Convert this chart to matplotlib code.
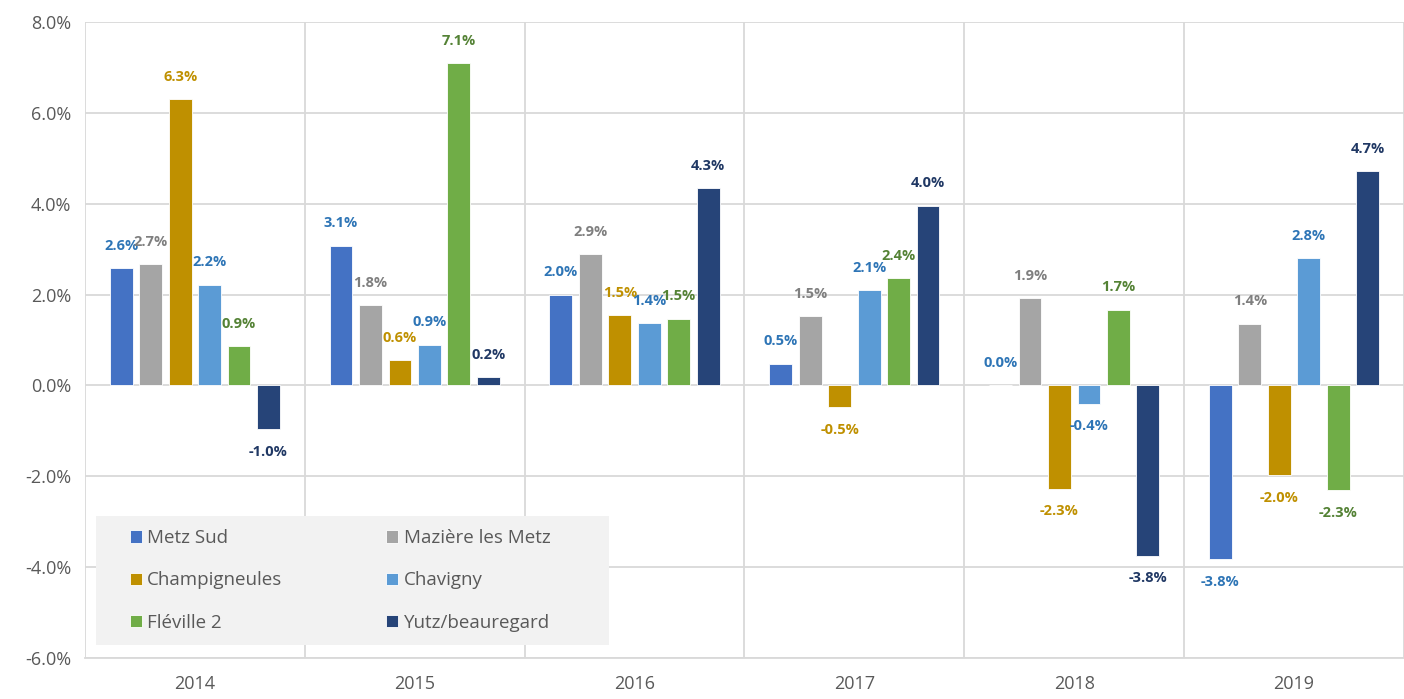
import numpy as np
import matplotlib.pyplot as plt
from matplotlib.patches import Rectangle
from matplotlib.ticker import FuncFormatter, MultipleLocator

plt.rcParams['font.family'] = ['Open Sans', 'DejaVu Sans']

years = ['2014', '2015', '2016', '2017', '2018', '2019']
series = ['Metz Sud', 'Mazière les Metz', 'Champigneules', 'Chavigny', 'Fléville 2', 'Yutz/beauregard']

metz_sud = [2.58, 3.08, 2.00, 0.48, 0.00, -3.83]
maziere = [2.67, 1.76, 2.89, 1.52, 1.92, 1.36]
champigneules = [6.30, 0.55, 1.54, -0.48, -2.27, -1.98]
chavigny = [2.22, 0.90, 1.37, 2.09, -0.40, 2.80]
fleville = [0.86, 7.09, 1.47, 2.36, 1.67, -2.31]
yutz = [-0.97, 0.18, 4.34, 3.96, -3.76, 4.71]

values = [metz_sud, maziere, champigneules, chavigny, fleville, yutz]
bar_colors = ['#4472C4', '#A5A5A5', '#BF9000', '#5B9BD5', '#70AD47', '#264478']
label_colors = ['#2E75B6', '#7F7F7F', '#BF9000', '#2E75B6', '#548235', '#203864']

fig = plt.figure(figsize=(14.04, 6.99), dpi=100)
ax = fig.add_axes([0.0605, 0.0587, 0.9395, 0.9098])

x = np.arange(len(years))
step = 0.134
width = 0.104
handles = []
for i, (vals, name) in enumerate(zip(values, series)):
    pos = x + (i - 2.5) * step
    b = ax.bar(pos, vals, width, color=bar_colors[i], edgecolor='white', linewidth=0.6,
               label=name, zorder=3)
    handles.append(b)
    for px, v in zip(pos, vals):
        txt = f'{v:.1f}%'
        if v >= 0:
            ax.annotate(txt, (px, v), xytext=(0, 11), textcoords='offset points',
                        ha='center', va='bottom', fontsize=10.5, fontweight='bold',
                        color=label_colors[i], zorder=4)
        else:
            ax.annotate(txt, (px, v), xytext=(0, -11), textcoords='offset points',
                        ha='center', va='top', fontsize=10.5, fontweight='bold',
                        color=label_colors[i], zorder=4)

ax.set_ylim(-6, 8)
ax.set_xlim(-0.5, len(years) - 0.5)
ax.yaxis.set_major_locator(MultipleLocator(2))
ax.yaxis.set_major_formatter(FuncFormatter(lambda v, p: f'{v:.1f}%'))
ax.set_xticks(x)
ax.set_xticklabels(years)
ax.set_xticks(np.arange(len(years) + 1) - 0.5, minor=True)

ax.grid(axis='y', which='major', color='#D9D9D9', linewidth=1.3, zorder=0)
ax.grid(axis='x', which='minor', color='#D9D9D9', linewidth=1.3, zorder=0)
ax.grid(axis='x', which='major', visible=False)

for s in ['top', 'right', 'left']:
    ax.spines[s].set_visible(False)
ax.spines['bottom'].set_color('#D9D9D9')
ax.spines['bottom'].set_linewidth(1.3)
ax.tick_params(axis='both', which='both', length=0, labelsize=13, colors='#595959')
ax.tick_params(axis='x', pad=12)
ax.tick_params(axis='y', pad=10)

# legend background box
ax.add_patch(Rectangle((0.0083, 0.0204), 0.389, 0.203, transform=ax.transAxes,
                       facecolor='#F2F2F2', edgecolor='none', zorder=5))

# row-major order: Metz Sud / Mazière on first row
order = [0, 2, 4, 1, 3, 5]
leg = ax.legend([handles[k] for k in order], [series[k] for k in order],
                ncol=2, loc='center left', bbox_to_anchor=(0.021, 0.122),
                fontsize=13.5, frameon=False,
                handlelength=0.65, handleheight=0.65, handletextpad=0.3,
                labelspacing=1.3, columnspacing=5.5)
for t in leg.get_texts():
    t.set_color('#595959')
leg.set_zorder(6)

fig.savefig('out.png', dpi=100)
